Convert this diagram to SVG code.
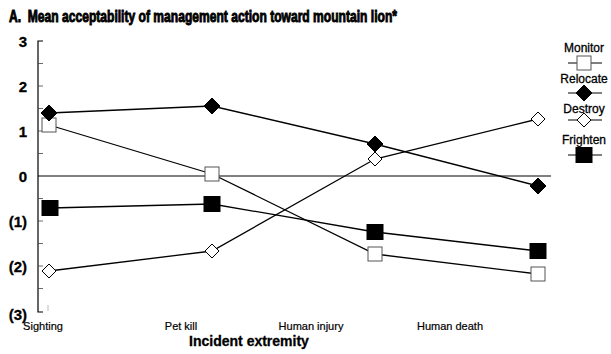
<svg xmlns="http://www.w3.org/2000/svg" width="611" height="354" viewBox="0 0 611 354">
<defs>
<style>
.t{font-family:"Liberation Sans",Arial,sans-serif;fill:#000}
.b{font-weight:bold}
.h{stroke:#000;stroke-width:0.9}
.ln{fill:none;stroke:#000;stroke-width:1.3}
.ax{fill:none;stroke:#000;stroke-width:1.2}
.tk{stroke:#444;stroke-width:0.8}
.os{fill:#fff;stroke:#555;stroke-width:1}
.fs{fill:#000;stroke:#000;stroke-width:1}
.od{fill:#fff;stroke:#000;stroke-width:1}
.fd{fill:#000;stroke:#000;stroke-width:1}
</style>
<rect id="mOS" x="-7" y="-7" width="14" height="14" class="os"/>
<rect id="mFS" x="-8" y="-7.5" width="16" height="15" class="fs"/>
<polygon id="mFD" points="0,-8 8,0 0,8 -8,0" class="fd"/>
<polygon id="mOD" points="0,-7 7,0 0,7 -7,0" class="od"/>
</defs>
<rect width="611" height="354" fill="#fff"/>
<text class="t b h" x="9" y="22" font-size="16" textLength="388" lengthAdjust="spacingAndGlyphs" xml:space="preserve">A.  Mean acceptability of management action toward mountain lion*</text>

<g id="axes">
<path class="ax" d="M43,41 H38 V312 H43"/>
<line x1="38" y1="176" x2="551" y2="176" stroke="#000" stroke-width="1"/>
<path class="tk" d="M38,63.5H43 M38,86H43 M38,108.5H43 M38,131H43 M38,153.5H43 M38,198.5H43 M38,221H43 M38,243.5H43 M38,266H43 M38,288.5H43"/>
<line x1="48" y1="305" x2="48" y2="311" stroke="#bbb" stroke-width="1"/>
<g class="t b" font-size="15" text-anchor="end" stroke="#000" stroke-width="0.3">
<text x="27" y="47">3</text>
<text x="27" y="92">2</text>
<text x="27" y="137">1</text>
<text x="27" y="182">0</text>
<text x="27" y="227">(1)</text>
<text x="27" y="272">(2)</text>
<text x="27" y="320">(3)</text>
</g>
<g class="t" font-size="11" text-anchor="middle" stroke="#000" stroke-width="0.2">
<text x="43" y="330">Sighting</text>
<text x="181" y="330">Pet kill</text>
<text x="311" y="330">Human injury</text>
<text x="450" y="330">Human death</text>
</g>
<text class="t b" x="249" y="346" font-size="14" text-anchor="middle" stroke="#000" stroke-width="0.3">Incident extremity</text>
</g>

<g id="connectors">
<polyline id="line-monitor" class="ln" points="49,125 212,174 375,254 538,274"/>
<polyline id="line-relocate" class="ln" points="49,113 212,106 375,144 538,186"/>
<polyline id="line-destroy" class="ln" points="49,271 212,251 375,159 538,119"/>
<polyline id="line-frighten" class="ln" points="50,208 212,204 375,232 538,251"/>
</g>

<g id="monitor">
<use href="#mOS" x="49" y="125"/>
<use href="#mOS" x="212" y="174"/>
<use href="#mOS" x="375" y="254"/>
<use href="#mOS" x="538" y="274"/>
</g>
<g id="relocate">
<use href="#mFD" x="49" y="113"/>
<use href="#mFD" x="212" y="106"/>
<use href="#mFD" x="375" y="144"/>
<use href="#mFD" x="538" y="186"/>
</g>
<g id="destroy">
<use href="#mOD" x="49" y="271"/>
<use href="#mOD" x="212" y="251"/>
<use href="#mOD" x="375" y="159"/>
<use href="#mOD" x="538" y="119"/>
</g>
<g id="frighten">
<use href="#mFS" x="50" y="208"/>
<use href="#mFS" x="212" y="204"/>
<use href="#mFS" x="375" y="232"/>
<use href="#mFS" x="538" y="251"/>
</g>

<g id="legend">
<g class="t" font-size="12" text-anchor="middle" stroke="#000" stroke-width="0.3">
<text x="584" y="52">Monitor</text>
<text x="584" y="83">Relocate</text>
<text x="584" y="113">Destroy</text>
<text x="584" y="144">Frighten</text>
</g>
<path d="M568,63H602 M568,93H602 M568,120H602 M568,155H602" stroke="#000" stroke-width="1"/>
<use href="#mOS" x="584" y="63"/>
<use href="#mFD" x="584" y="93"/>
<use href="#mOD" x="584" y="120"/>
<use href="#mFS" x="584" y="155"/>
</g>
</svg>
